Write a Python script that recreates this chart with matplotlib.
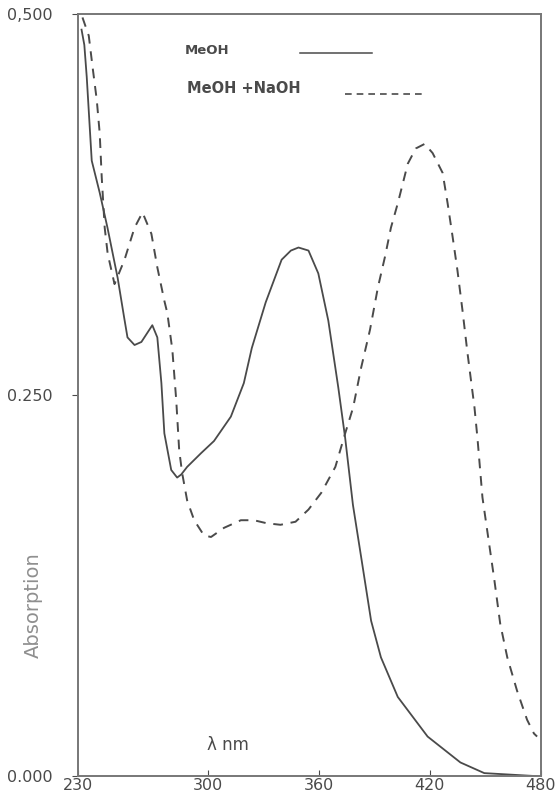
import matplotlib
matplotlib.use("Agg")
import matplotlib.pyplot as plt

# MeOH (solid)
wl_meoh = [232.0, 233.5, 234.8, 237.5, 241.8, 246.0, 251.5, 255.0, 256.8, 260.6,
           264.3, 270.2, 272.9, 275.1, 276.7, 280.4, 283.6, 285.8, 289.0, 296.5,
           303.5, 312.6, 319.6, 323.9, 331.4, 340.0, 345.0, 349.1, 354.5, 359.8,
           365.2, 370.6, 374.3, 378.5, 382.9, 388.3, 393.6, 402.7, 418.8, 436.5,
           449.4, 478.0]
abs_meoh = [0.490, 0.480, 0.459, 0.404, 0.383, 0.360, 0.327, 0.301, 0.288, 0.283,
            0.285, 0.296, 0.288, 0.258, 0.225, 0.201, 0.196, 0.198, 0.203, 0.212,
            0.220, 0.236, 0.258, 0.281, 0.311, 0.339, 0.345, 0.347, 0.345, 0.330,
            0.299, 0.255, 0.222, 0.178, 0.144, 0.102, 0.078, 0.052, 0.026, 0.009,
            0.002, 0.000]

# MeOH + NaOH (dashed)
wl_naoh = [232.5, 235.9, 238.0, 240.2, 241.8, 242.9, 244.5, 246.1, 249.8, 255.2,
           260.6, 264.9, 269.7, 272.9, 276.7, 278.3, 281.0, 283.1, 284.7, 286.3,
           289.0, 292.8, 298.1, 301.9, 308.9, 318.0, 325.0, 332.0, 339.4, 347.5,
           354.5, 361.4, 369.0, 374.3, 378.6, 382.9, 387.7, 392.0, 395.8, 399.0,
           402.7, 408.1, 412.4, 417.2, 421.5, 426.9, 429.6, 432.3, 434.9, 437.6,
           440.3, 444.1, 445.7, 448.4, 451.0, 454.8, 458.0, 461.8, 467.1, 472.5,
           476.2, 477.9]
abs_naoh = [0.498, 0.486, 0.465, 0.444, 0.422, 0.393, 0.360, 0.343, 0.323, 0.339,
            0.360, 0.370, 0.356, 0.334, 0.312, 0.304, 0.280, 0.247, 0.214, 0.199,
            0.181, 0.168, 0.158, 0.157, 0.163, 0.168, 0.168, 0.166, 0.165, 0.167,
            0.175, 0.186, 0.203, 0.225, 0.242, 0.268, 0.293, 0.321, 0.341, 0.360,
            0.376, 0.402, 0.412, 0.415, 0.409, 0.396, 0.376, 0.354, 0.332, 0.306,
            0.278, 0.242, 0.222, 0.183, 0.161, 0.129, 0.100, 0.078, 0.056, 0.037,
            0.028, 0.026]

xticks = [230, 300, 360, 420, 480]
yticks = [0.0, 0.25, 0.5]
ytick_labels = ["0.000", "0.250", "0,500"]

ink = "#4a4a4a"
pale = "#8f8f8f"

fig = plt.figure(figsize=(5.56, 8.01), dpi=100)
ax = fig.add_axes([0.140, 0.031, 0.833, 0.951])

ax.plot(wl_meoh, abs_meoh, color=ink, lw=1.3)
ax.plot(wl_naoh, abs_naoh, color=ink, lw=1.4, linestyle=(0, (5, 4)))

ax.set_xlim(230, 480)
ax.set_ylim(0, 0.5)
ax.set_xticks(xticks)
ax.set_xticklabels([str(t) for t in xticks])
ax.set_yticks(yticks)
ax.set_yticklabels(ytick_labels)
ax.tick_params(axis="x", direction="in", length=4, pad=1, labelsize=11.5,
               colors=ink, labelcolor=ink)
ax.tick_params(axis="y", direction="out", length=4, pad=14, labelsize=11.5,
               colors=ink, labelcolor=ink)
for s in ax.spines.values():
    s.set_color("#777777")
    s.set_linewidth(1.4)

ax.set_ylabel("Absorption", color=pale, fontsize=14)
ax.yaxis.set_label_coords(-0.075, 0.225)
ax.text(0.324, 0.041, "λ nm", transform=ax.transAxes, ha="center",
        va="center", fontsize=12, color=ink)

# hand-drawn style key
ax.text(0.231, 0.953, "MeOH", transform=ax.transAxes, va="center",
        fontsize=9.5, color=ink, fontweight="bold")
ax.plot([0.479, 0.635], [0.949, 0.949], transform=ax.transAxes,
        color=ink, lw=1.1)
ax.text(0.235, 0.903, "MeOH +NaOH", transform=ax.transAxes, va="center",
        fontsize=10.5, color=ink, fontweight="bold")
ax.plot([0.577, 0.743], [0.896, 0.896], transform=ax.transAxes,
        color=ink, lw=1.2, linestyle=(0, (4, 3)))

fig.savefig("out.png", dpi=100)
